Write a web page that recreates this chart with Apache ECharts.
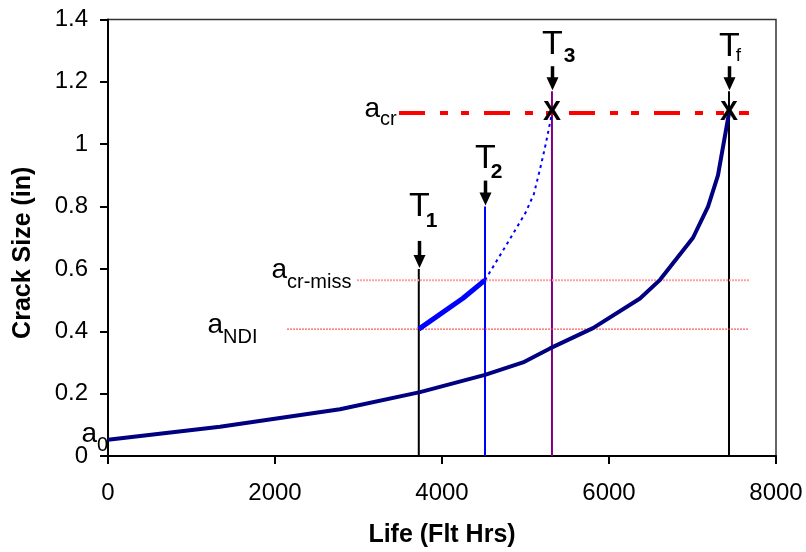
<!DOCTYPE html>
<html>
<head>
<meta charset="utf-8">
<script src="https://cdn.jsdelivr.net/npm/echarts@6/dist/echarts.min.js"></script>
<style>
  html, body { margin: 0; padding: 0; background: #fff; }
  #chart { width: 806px; height: 552px; }
</style>
</head>
<body>
<div id="chart"></div>
<script>
// main crack growth curve
const lifeHrs = [0, 1341, 2778, 3737, 4515, 4970, 5293, 5808, 6371, 6611, 7006, 7186, 7305, 7437]
const crackSize = [0.052, 0.094, 0.15, 0.205, 0.26, 0.30, 0.345, 0.41, 0.505, 0.565, 0.70, 0.80, 0.90, 1.10]
// missed crack, grown from a_NDI at T1 to a_cr-miss at T2
const missLife = [3722, 4251, 4515]
const missCrack = [0.407, 0.506, 0.564]
// projected growth of missed crack to a_cr
const projLife = [4515, 4800, 5000, 5100, 5174, 5234, 5280, 5317]
const projCrack = [0.564, 0.69, 0.78, 0.84, 0.92, 0.99, 1.05, 1.10]
// inspection times T1, T2, T3, Tf
const inspNames = ['1', '2', '3', 'f']
const inspTimes = [3722, 4515, 5317, 7437]
const inspTops = [0.6, 0.8, 1.17, 1.17]
// crack size levels a_cr, a_cr-miss, a_NDI
const levelNames = ['cr', 'cr-miss', 'NDI']
const levelSizes = [1.1, 0.564, 0.407]
const levelStart = [3485, 2982, 2144]
const levelEnd = 7677
// failure points
const failLife = [5317, 7437]
const failCrack = [1.1, 1.1]

const FONT = 'Liberation Sans, Arial, sans-serif'
const inspColors = ['#000000', '#0000ff', '#800080', '#000000']
const levelStyles = [
  { color: '#ff0000', width: 4, type: [26, 15, 8, 13, 8, 15] },
  { color: '#ffa0a0', width: 2, type: [2, 1] },
  { color: '#ff3030', width: 1, type: [2, 1] },
]

const zip = (xs, ys) => xs.map((x, i) => [x, ys[i]])

const chart = echarts.init(document.getElementById('chart'))

const series = []
inspTimes.forEach((t, i) => {
  series.push({
    type: 'line',
    data: [[t, 0], [t, inspTops[i]]],
    symbol: 'none',
    silent: true,
    lineStyle: { color: inspColors[i], width: 2 },
    z: 2,
  })
})
levelSizes.forEach((a, i) => {
  series.push({
    type: 'line',
    data: [[levelStart[i], a], [levelEnd, a]],
    symbol: 'none',
    silent: true,
    lineStyle: levelStyles[i],
    z: 3,
  })
})
series.push({
  type: 'line',
  data: zip(lifeHrs, crackSize),
  symbol: 'none',
  lineStyle: { color: '#000080', width: 4 },
  z: 4,
})
series.push({
  type: 'line',
  data: zip(missLife, missCrack),
  symbol: 'none',
  lineStyle: { color: '#0000ff', width: 5 },
  z: 4,
})
series.push({
  type: 'line',
  data: zip(projLife, projCrack),
  symbol: 'none',
  lineStyle: { color: '#0000ff', width: 2, type: [3, 4] },
  z: 4,
})
series.push({
  type: 'scatter',
  data: zip(failLife, failCrack),
  symbolSize: 2,
  itemStyle: { color: 'transparent', opacity: 1 },
  label: {
    show: true,
    position: 'inside',
    formatter: 'X',
    fontFamily: FONT,
    fontSize: 27,
    fontWeight: 'bold',
    color: '#000',
    opacity: 1,
  },
  z: 5,
})

const axisCommon = {
  type: 'value',
  splitLine: { show: false },
  axisLine: { onZero: false, lineStyle: { color: '#000', width: 2 } },
  axisTick: { inside: false, length: 8, lineStyle: { color: '#000', width: 2 } },
  axisLabel: {
    color: '#000', fontFamily: FONT, fontSize: 24,
    showMinLabel: true, showMaxLabel: true,
    formatter: v => String(v),
  },
}

chart.setOption({
  animation: false,
  backgroundColor: '#fff',
  grid: {
    left: 108, right: 30, top: 19.5, bottom: 96,
    show: true, borderColor: '#333', borderWidth: 1.5,
    outerBoundsMode: 'none',
  },
  xAxis: Object.assign({}, axisCommon, {
    min: 0, max: 8000, interval: 2000,
    axisLabel: Object.assign({}, axisCommon.axisLabel, { margin: 25 }),
    name: 'Life (Flt Hrs)',
    nameLocation: 'middle',
    nameGap: 67,
    nameMoveOverlap: false,
    nameTextStyle: { color: '#000', fontFamily: FONT, fontSize: 25, fontWeight: 'bold' },
  }),
  yAxis: Object.assign({}, axisCommon, {
    min: 0, max: 1.4, interval: 0.2,
    axisLabel: Object.assign({}, axisCommon.axisLabel, { margin: 20 }),
  }),
  series: series,
})

// annotations placed from data coordinates
const px = (x, y) => chart.convertToPixel({ gridIndex: 0 }, [x, y])
const txt = (x, y, text, size, weight, align) => ({
  type: 'text', x: x, y: y, silent: true,
  style: {
    text: text, fill: '#000', fontFamily: FONT, fontSize: size,
    fontWeight: weight || 'normal', align: align || 'center', verticalAlign: 'middle',
  },
})

const graphic = []

// T labels with arrows: offsets of T, subscript, arrow length
const tLayout = [
  { t: -61, sx: 12, sy: -47, len: 27 },
  { t: -47, sx: 11, sy: -33, len: 25 },
  { t: -46, sx: 17, sy: -34, len: 24 },
  { t: -44, sx: 9, sy: -34, len: 24 },
]
inspTimes.forEach((t, i) => {
  const p = px(t, inspTops[i])
  const x = Math.round(p[0]) + 0.5
  const tip = p[1] - 1
  const l = tLayout[i]
  graphic.push({
    type: 'line', silent: true,
    shape: { x1: x, y1: tip - l.len, x2: x, y2: tip - 10 },
    style: { stroke: '#000', lineWidth: 3.5 },
  })
  graphic.push({
    type: 'polygon', silent: true,
    shape: { points: [[x - 6, tip - 13], [x + 6, tip - 13], [x, tip]] },
    style: { fill: '#000' },
  })
  graphic.push(txt(x, tip + l.t, 'T', 34))
  const isF = inspNames[i] === 'f'
  graphic.push(txt(x + l.sx, tip + l.sy, inspNames[i], isF ? 19 : 21, isF ? 'normal' : 'bold'))
})

// a labels: [dx of 'a' right edge, dy of 'a', dx of sub left edge, dy of sub]
const aLayout = [
  [-19, -4, -19, 6],
  [-70, -10, -70, 2],
  [-64, -4, -64, 8],
]
levelSizes.forEach((a, i) => {
  const p = px(levelStart[i], a)
  const L = aLayout[i]
  graphic.push(txt(p[0] + L[0], p[1] + L[1], 'a', 28, 'normal', 'right'))
  graphic.push(txt(p[0] + L[2], p[1] + L[3], levelNames[i], 20, 'normal', 'left'))
})
const a0 = px(lifeHrs[0], crackSize[0])
graphic.push(txt(a0[0] - 11, a0[1] - 6, 'a', 28, 'normal', 'right'))
graphic.push(txt(a0[0] - 11, a0[1] + 6, '0', 20, 'normal', 'left'))

// y axis title
const g0 = px(0, 0)
const g1 = px(8000, 1.4)
graphic.push({
  type: 'text', x: 23, y: (g0[1] + g1[1]) / 2 + 15, rotation: Math.PI / 2, silent: true,
  style: {
    text: 'Crack Size (in)', fill: '#000', fontFamily: FONT, fontSize: 25,
    fontWeight: 'bold', align: 'center', verticalAlign: 'middle',
  },
})

chart.setOption({ graphic: graphic })
</script>
</body>
</html>
